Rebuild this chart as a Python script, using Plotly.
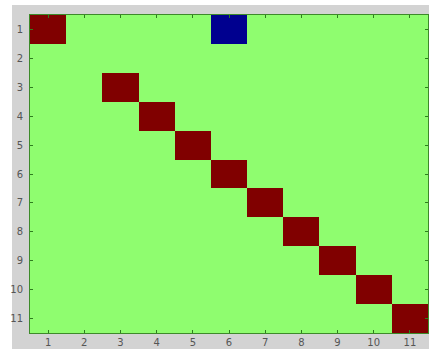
import plotly.graph_objects as go

labels = list(range(1, 12))
# matrix cell states: 0 = background, 1 = dark red, -1 = blue
red_rows = [1, 3, 4, 5, 6, 7, 8, 9, 10, 11]
red_cols = [1, 3, 4, 5, 6, 7, 8, 9, 10, 11]
blue_rows = [1]
blue_cols = [6]

z = [[0 for _ in labels] for _ in labels]
for r, c in zip(red_rows, red_cols):
    z[r - 1][c - 1] = 1
for r, c in zip(blue_rows, blue_cols):
    z[r - 1][c - 1] = -1

colorscale = [
    [0.0, "#00008f"], [0.333, "#00008f"],
    [0.334, "#8ffd6f"], [0.666, "#8ffd6f"],
    [0.667, "#800000"], [1.0, "#800000"],
]

fig = go.Figure(go.Heatmap(
    x=labels, y=labels, z=z, zmin=-1, zmax=1,
    colorscale=colorscale, showscale=False, xgap=0, ygap=0,
    hoverinfo="skip",
))

W, H = 429, 349
ml, mr, mt, mb = 12, 0, 5, 0
pw = W - ml - mr
ph = H - mt - mb
# plot area in pixels
px0, px1, py0, py1 = 30, 428, 15, 333

fig.update_layout(
    width=W, height=H,
    margin=dict(l=ml, r=mr, t=mt, b=mb, pad=0),
    paper_bgcolor="#ffffff",
    plot_bgcolor="#8ffd6f",
    font=dict(family="DejaVu Sans", size=10, color="#555555"),
)
fig.add_shape(type="rect", xref="paper", yref="paper", layer="below",
              x0=0, x1=1, y0=0, y1=1,
              fillcolor="#d3d3d3", line=dict(width=0))
fig.update_xaxes(
    domain=[(px0 - ml) / pw, (px1 - ml) / pw],
    range=[0.5, 11.5], tickvals=labels, ticks="inside", ticklen=3,
    tickcolor="#2e7d1e", showline=True, linecolor="#3d8a2a", linewidth=1,
    mirror="ticks", showgrid=False, zeroline=False,
)
fig.update_yaxes(
    domain=[(H - py1) / ph, (H - py0) / ph],
    range=[11.5, 0.5], tickvals=labels, ticks="inside", ticklen=3,
    tickcolor="#2e7d1e", showline=True, linecolor="#3d8a2a", linewidth=1,
    mirror="ticks", showgrid=False, zeroline=False, ticklabelstandoff=4,
)

fig.write_html("out.html")
